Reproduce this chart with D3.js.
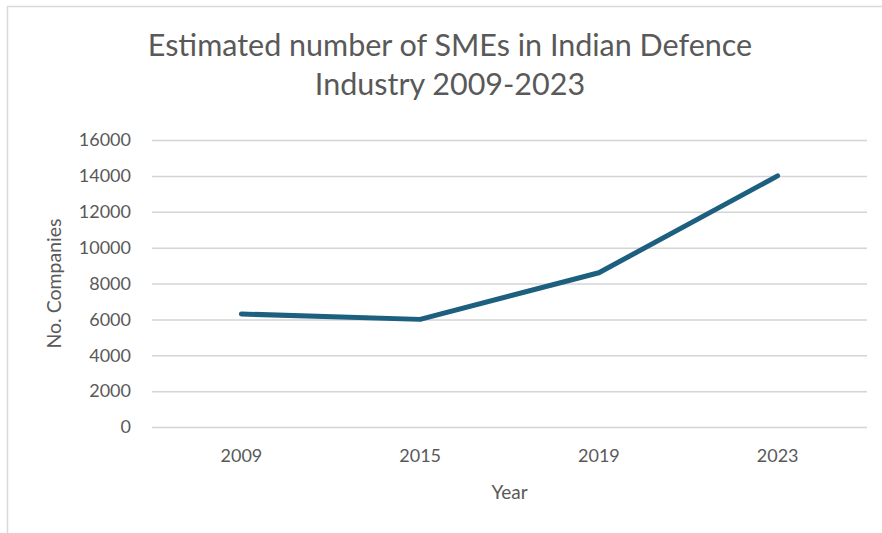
<!DOCTYPE html>
<html>
<head>
<meta charset="utf-8">
<script src="https://cdn.jsdelivr.net/npm/d3@7"></script>
<style>
  html, body { margin: 0; padding: 0; background: #fff; }
  svg { display: block; }
</style>
</head>
<body>
<svg id="chart" width="882" height="533"></svg>
<script>
// Estimated SMEs in the Indian defence industry
const years = ["2009", "2015", "2019", "2023"];
const companies = [6300, 6000, 8600, 14000];
const yTicks = [0, 2000, 4000, 6000, 8000, 10000, 12000, 14000, 16000];
const titleLines = ["Estimated number of SMEs in Indian Defence", "Industry 2009-2023"];

const W = 882, H = 533;
const plot = { left: 152, right: 867, top: 140, bottom: 427 };
const font = "Lato, 'Open Sans', sans-serif";
const textColor = "#595959";

const svg = d3.select("#chart");

// chart frame
svg.append("rect")
  .attr("x", 7.5).attr("y", 6.5)
  .attr("width", W + 10).attr("height", H + 10)
  .attr("fill", "#fff")
  .attr("stroke", "#d9d9d9").attr("stroke-width", 1.5);

const x = d3.scaleBand().domain(years).range([plot.left, plot.right]);
const y = d3.scaleLinear().domain([0, 16000]).range([plot.bottom, plot.top]);

// horizontal gridlines + value labels
const yAxis = d3.axisLeft(y).tickValues(yTicks)
  .tickSize(-(plot.right - plot.left)).tickPadding(21)
  .tickFormat(d3.format("d"));
const gy = svg.append("g").attr("transform", `translate(${plot.left},0)`).call(yAxis);
gy.select(".domain").remove();
gy.selectAll(".tick line").attr("stroke", "#d4d4d4").attr("stroke-width", 1.5);
gy.selectAll(".tick text")
  .attr("fill", textColor).attr("font-family", font).attr("font-size", 18);

// category labels
const xAxis = d3.axisBottom(x).tickSize(0).tickPadding(22);
const gx = svg.append("g").attr("transform", `translate(0,${plot.bottom})`).call(xAxis);
gx.select(".domain").remove();
gx.selectAll(".tick text")
  .attr("fill", textColor).attr("font-family", font).attr("font-size", 18);

// series line
const line = d3.line()
  .x((d, i) => x(years[i]) + x.bandwidth() / 2)
  .y(d => y(d));
svg.append("path")
  .datum(companies)
  .attr("d", line)
  .attr("fill", "none")
  .attr("stroke", "#1d5f7e")
  .attr("stroke-width", 5)
  .attr("stroke-linecap", "round")
  .attr("stroke-linejoin", "round");

// title
svg.append("text")
  .attr("y", 56)
  .attr("text-anchor", "middle")
  .attr("fill", textColor).attr("font-family", font).attr("font-size", 30.5)
  .selectAll("tspan").data(titleLines).join("tspan")
  .attr("x", 450).attr("dy", (d, i) => i === 0 ? 0 : 39)
  .text(d => d);

// axis titles
svg.append("text")
  .attr("x", (plot.left + plot.right) / 2).attr("y", 499)
  .attr("text-anchor", "middle")
  .attr("fill", textColor).attr("font-family", font).attr("font-size", 19)
  .text("Year");

svg.append("text")
  .attr("transform", `translate(61,${(plot.top + plot.bottom) / 2}) rotate(-90)`)
  .attr("text-anchor", "middle")
  .attr("fill", textColor).attr("font-family", font).attr("font-size", 19.5)
  .text("No. Companies");
</script>
</body>
</html>
